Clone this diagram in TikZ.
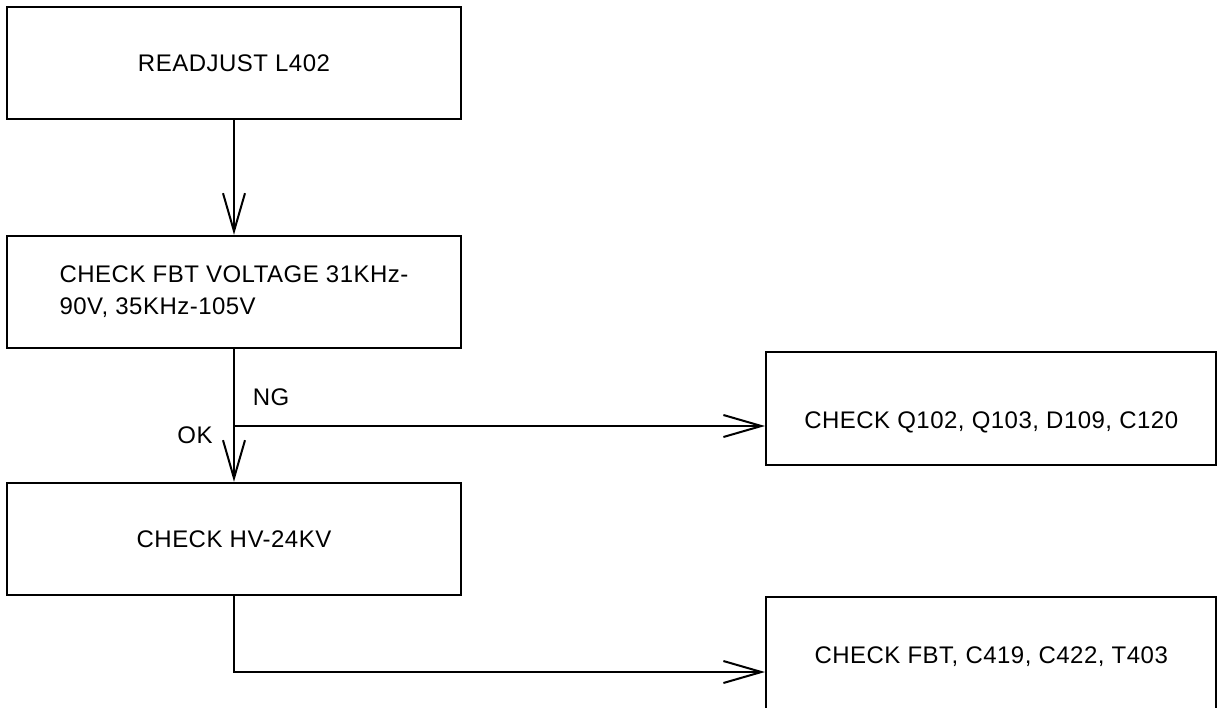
\documentclass[tikz,border=0pt]{standalone}
\usepackage{fontspec}
\setmainfont{Liberation Sans}[LetterSpace=2]
\usetikzlibrary{arrows.meta, positioning, calc}

\begin{document}
\begin{tikzpicture}[
        x=0.5pt, y=-0.5pt,
        every node/.style={font=\fontsize{12}{16}\selectfont},
        box/.style={draw=black, line width=1.2pt, minimum width=227pt,
                    minimum height=56pt, align=left, inner ysep=0pt},
        sidebox/.style={draw=black, line width=1.2pt, minimum width=225pt,
                        minimum height=56pt, align=center, inner ysep=0pt},
        arr/.style={-{Straight Barb[length=19pt, width=11pt]}, line width=1pt},
        lbl/.style={inner sep=0pt}
      ]
        \useasboundingbox (0,0) rectangle (1220,707);

        \node[box]                  (L402) at (234,63)  {READJUST L402};
        \node[box]                  (FBTV) at (234,292) {CHECK FBT VOLTAGE 31KHz-\\90V, 35KHz-105V};
        \node[box]                  (HV)   at (234,539) {CHECK HV-24KV};
        \node[sidebox, anchor=north west, text height=38pt, text depth=18.5pt]
                                    (Q)    at (765,351) {CHECK Q102, Q103, D109, C120};
        \node[sidebox, anchor=north west, text height=33pt, text depth=25pt]
                                    (T403) at (765,596) {CHECK FBT, C419, C422, T403};

        \coordinate (split) at (234,426);
        \coordinate (turn)  at (234,672);

        \draw[arr] (L402) -- (FBTV);
        \draw[arr] (FBTV) -- (HV);
        \draw[arr] (split) -- (split -| Q.west);
        \draw[arr] (HV.south) -- (turn) -- (turn -| T403.west);

        \node[lbl] (ng) at (271,397) {NG};
        \node[lbl] (ok) at (195,435) {OK};
      \end{tikzpicture}
\end{document}
